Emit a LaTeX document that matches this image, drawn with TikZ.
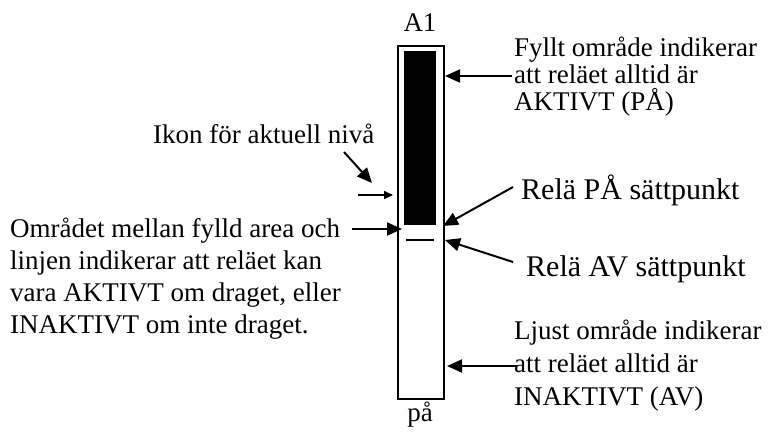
\documentclass[tikz,border=0pt]{standalone}
\usepackage{fontspec}
\setmainfont{Liberation Serif}
\usetikzlibrary{arrows.meta}
\tikzset{
  label/.style={font=\fontsize{27}{30}\selectfont, inner sep=0pt, align=left, anchor=base west},
  lead/.style={font=\fontsize{27}{#1}\selectfont},
  callout/.style={line width=2pt, -{Triangle[length=15pt,width=13pt]}},
  smallcallout/.style={line width=1.6pt, -{Triangle[length=9pt,width=8pt]}}
}
\begin{document}
\begin{tikzpicture}[x=1pt,y=-1pt]
  \useasboundingbox (0,0) rectangle (771,432);

  % relay bar: frame, filled part and set-point line
  \node[draw, line width=2pt, minimum width=46pt, minimum height=353pt, inner sep=0pt,
        anchor=north west] (bar) at (397,45) {};
  \node[fill=black, minimum width=32pt, minimum height=174pt, inner sep=0pt,
        anchor=north west] (solid) at (404,51) {};
  \draw[line width=2pt] (406,240) coordinate (offL) -- (434,240) coordinate (offR);

  \node[label, anchor=base] (top) at (420,31) {A1};
  \node[label, anchor=base] (bottom) at (420,421) {på};

  % texts (the base anchor sits on the last line)
  \node[label, lead=27] (fyllt) at (514,110) {Fyllt område indikerar\\att reläet alltid är\\AKTIVT (PÅ)};
  \node[label] (ikon) at (153,143) {Ikon för aktuell nivå};
  \node[label, font=\fontsize{30}{32}\selectfont] (pa) at (521,199) {Relä PÅ sättpunkt};
  \node[label, font=\fontsize{30}{32}\selectfont] (av) at (526,276) {Relä AV sättpunkt};
  \node[label, lead=32] (mellan) at (10,333) {Området mellan fylld area och\\linjen indikerar att reläet kan\\vara AKTIVT om draget, eller\\INAKTIVT om inte draget.};
  \node[label, lead=33] (ljust) at (514,405) {Ljust område indikerar\\att reläet alltid är\\INAKTIVT (AV)};

  % arrow end points
  \coordinate (fylltT) at (512,76);   \coordinate (fylltH) at (445,76);
  \coordinate (ikonT) at (344,152);   \coordinate (ikonH) at (372,183);
  \coordinate (levT) at (358,195);    \coordinate (levH) at (393,195);
  \coordinate (mellT) at (352,229);   \coordinate (mellH) at (402,229);
  \coordinate (paT) at (513,187);     \coordinate (paH) at (443,226);
  \coordinate (avT) at (513,262);     \coordinate (avH) at (445,240);
  \coordinate (ljT) at (517,366);     \coordinate (ljH) at (447,366);

  \draw[callout] (fylltT) -- (fylltH);
  \draw[callout] (ikonT) -- (ikonH);
  \draw[smallcallout] (levT) -- (levH);
  \draw[callout] (mellT) -- (mellH);
  \draw[callout] (paT) -- (paH);
  \draw[callout] (avT) -- (avH);
  \draw[callout] (ljT) -- (ljH);
\end{tikzpicture}
\end{document}
